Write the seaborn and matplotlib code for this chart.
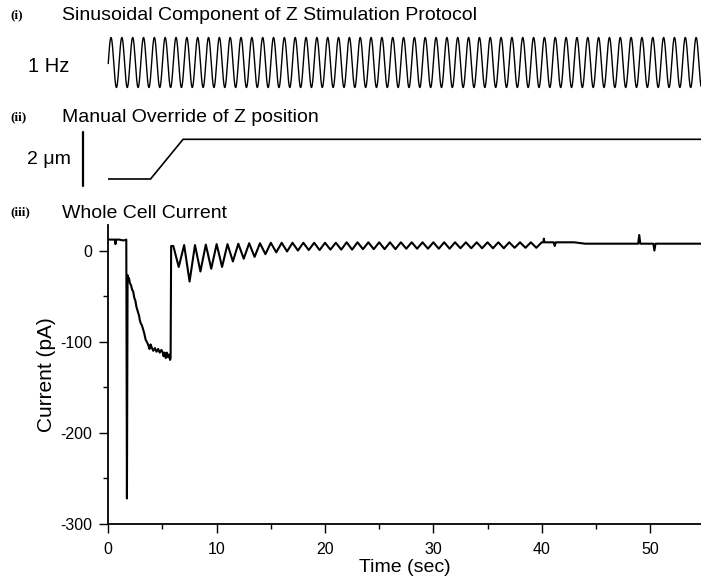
import numpy as np
import pandas as pd
import matplotlib
matplotlib.use("Agg")
import matplotlib.pyplot as plt
import seaborn as sns

# (i) stimulus protocol
stim_freq_hz = 1.0
stim_start, stim_end = -0.3, 54.7

# (ii) manual override of Z position (sec, um)
z_time = [0.0, 3.9, 6.9, 54.7]
z_pos = [0.0, 0.0, 1.47, 1.47]

# (iii) whole cell current: onset, spike and decay (sec, pA)
early_t = [0.0, 0.6, 0.66, 0.72, 1.0, 1.4, 1.66, 1.72, 1.78, 1.85, 1.9, 2.0, 2.1, 2.2,
           2.3, 2.4, 2.5, 2.6, 2.75, 2.85, 2.9, 3.0, 3.1, 3.2, 3.3, 3.45, 3.55, 3.7,
           3.8, 3.9, 4.0, 4.15, 4.3, 4.45, 4.6, 4.75, 4.9, 5.0, 5.1, 5.2, 5.3, 5.4,
           5.5, 5.6, 5.7, 5.75, 5.8]
early_i = [12, 12, 7, 12, 12, 11, 12, -272, -27, -33, -30, -36, -38, -43,
           -45, -52, -55, -62, -68, -72, -76, -80, -82, -86, -90, -98, -100, -104,
           -108, -103, -106, -110, -107, -111, -108, -112, -109, -111, -116, -112, -118, -112,
           -117, -114, -120, -118, 5]

# 1 Hz oscillations after the step: peak (whole sec) and dip (half sec) per cycle
cycle_first = 6
cycle_peak = [5, 6, 6, 6.5, 7, 7, 7.5, 8, 8, 8.5, 8.5, 8.5, 8.5, 8.5, 8.5, 8.5, 9,
              9, 9, 9, 9, 9, 9, 9, 9, 9, 9, 9, 9, 9, 9, 9, 9, 9]
cycle_dip = [-18, -34, -23, -20, -18, -12, -9, -7, -4, -2, -1, 0, 0.5, 0.5, 1, 1, 1,
             1.5, 1.5, 1.5, 1.5, 2, 2, 2, 2, 2, 2.5, 2.5, 2.5, 2.5, 2.5, 3, 3, 3]

# late, steady part (sec, pA)
late_t = [40.0, 40.15, 40.2, 40.25, 41.1, 41.2, 41.3, 43.0, 44.0, 48.9, 49.0, 49.1,
          50.3, 50.4, 50.5, 54.7]
late_i = [9, 9, 13, 9, 9, 5, 9, 9, 7.5, 7.5, 17, 7.5, 7.5, 0, 7.5, 7.5]

osc_t, osc_i = [], []
for k, (p, d) in enumerate(zip(cycle_peak, cycle_dip)):
    osc_t += [cycle_first + k, cycle_first + k + 0.5]
    osc_i += [p, d]

current = pd.DataFrame({
    "t": early_t + osc_t + late_t,
    "i": early_i + osc_i + late_i,
})
zpos = pd.DataFrame({"t": z_time, "z": z_pos})
st = np.linspace(stim_start, stim_end, 6000)
stim = pd.DataFrame({"t": st, "s": np.sin(2 * np.pi * stim_freq_hz * st)})

sns.set_style("ticks")
plt.rcParams["font.family"] = ["Liberation Sans", "DejaVu Sans"]
plt.rcParams["axes.unicode_minus"] = False
for k in ["text.color", "axes.labelcolor", "xtick.color", "ytick.color", "axes.edgecolor"]:
    plt.rcParams[k] = "black"

W, H = 701, 584
fig = plt.figure(figsize=(W / 100, H / 100), dpi=100)

def box(x0, y0, x1, y1):
    return [x0 / W, 1 - y1 / H, (x1 - x0) / W, (y1 - y0) / H]

xlim = (0, 54.7)

ax1 = fig.add_axes(box(108.3, 30, 701, 95))
sns.lineplot(data=stim, x="t", y="s", ax=ax1, color="black", lw=1.0, sort=False, estimator=None)
ax1.set_xlim(xlim)
ax1.set_ylim(-1.3, 1.3)
ax1.axis("off")
for l in ax1.lines:
    l.set_clip_on(False)

ax2 = fig.add_axes(box(108.3, 125, 701, 195))
sns.lineplot(data=zpos, x="t", y="z", ax=ax2, color="black", lw=1.2, sort=False, estimator=None)
ax2.set_xlim(xlim)
ax2.set_ylim(-0.593, 2.0)
ax2.axis("off")
ax2.plot([-2.3, -2.3], [-0.26, 1.74], color="black", lw=1.6, clip_on=False)

ax3 = fig.add_axes(box(108.3, 225, 701, 524))
sns.lineplot(data=current, x="t", y="i", ax=ax3, color="black", lw=1.5, sort=False, estimator=None)
ax3.lines[0].set_linewidth(1.5)
ax3.set_xlim(xlim)
ax3.set_ylim(-300, 28)
sns.despine(ax=ax3)
for s in ["left", "bottom"]:
    ax3.spines[s].set_linewidth(1.3)
ax3.set_xticks([0, 10, 20, 30, 40, 50])
ax3.set_xticks([5, 15, 25, 35, 45], minor=True)
ax3.set_yticks([-300, -200, -100, 0])
ax3.set_yticks([-250, -150, -50], minor=True)
ax3.tick_params(which="major", length=6.3, width=1.0, labelsize=11.5, direction="out")
ax3.tick_params(which="minor", length=3.3, width=1.0, direction="out")
ax3.tick_params(axis="x", pad=7)
ax3.tick_params(axis="y", pad=5)
ax3.set_xlabel("Time (sec)", fontsize=14, labelpad=1)
ax3.set_ylabel("Current (pA)", fontsize=15, labelpad=3)

serif = ["Liberation Serif", "DejaVu Serif"]
fig.text(10 / W, 1 - 15 / H, "(i)", fontsize=9.5, fontweight="bold", family=serif, va="center")
fig.text(62 / W, 1 - 15 / H, "Sinusoidal Component of Z Stimulation Protocol", fontsize=14, va="center")
fig.text(28 / W, 1 - 66 / H, "1 Hz", fontsize=14.5, va="center")
fig.text(10 / W, 1 - 117 / H, "(ii)", fontsize=9.5, fontweight="bold", family=serif, va="center")
fig.text(62 / W, 1 - 118 / H, "Manual Override of Z position", fontsize=14, va="center")
fig.text(27 / W, 1 - 159 / H, "2 \u03bcm", fontsize=14, va="center")
fig.text(10 / W, 1 - 212 / H, "(iii)", fontsize=9.5, fontweight="bold", family=serif, va="center")
fig.text(62 / W, 1 - 213 / H, "Whole Cell Current", fontsize=14, va="center")

fig.savefig("out.png", dpi=100)
